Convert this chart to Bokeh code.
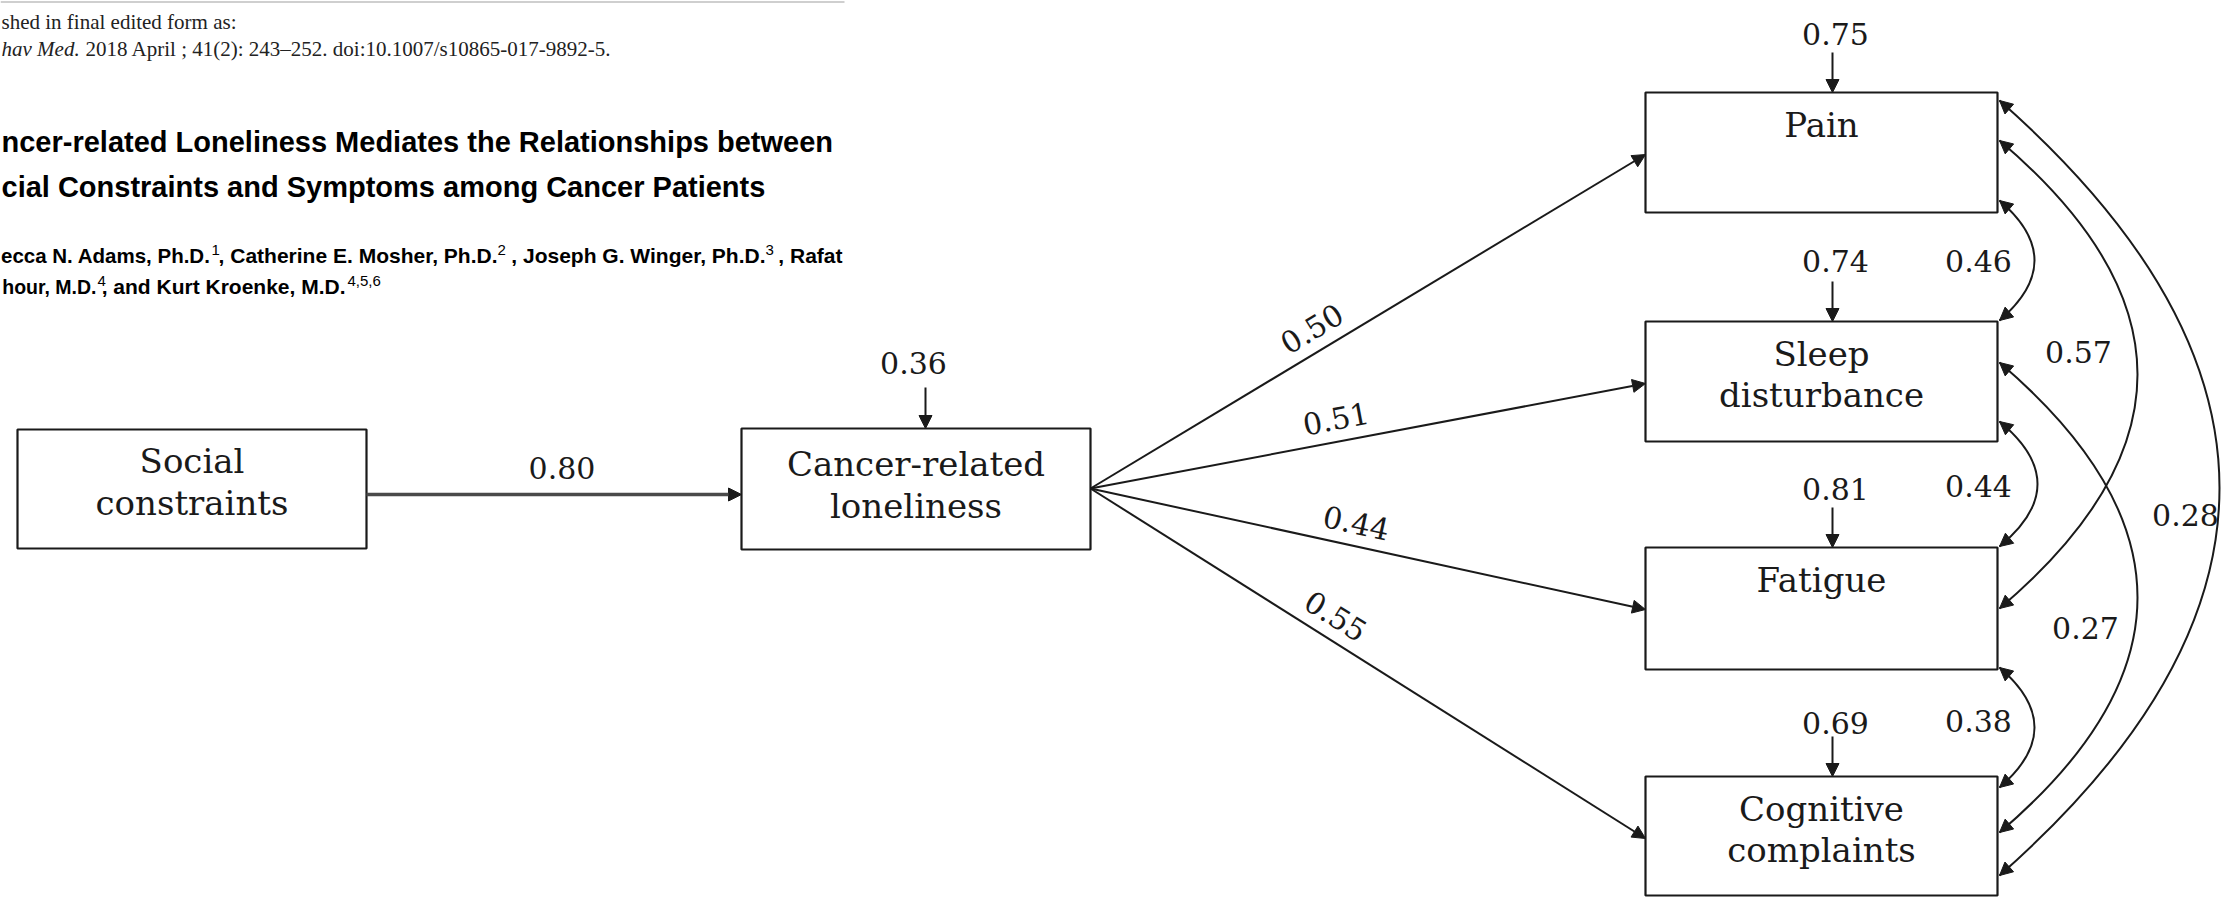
import math
from bokeh.plotting import figure
from bokeh.models import Range1d, Arrow, NormalHead, ColumnDataSource
from bokeh.core.properties import value
from bokeh.embed import file_html
from bokeh.resources import INLINE

# ------------------------------------------------------------------ data
header_line = "shed in final edited form as:"
citation_italic = "hav Med."
citation_rest = "2018 April ; 41(2): 243–252. doi:10.1007/s10865-017-9892-5."
title_lines = ["ncer-related Loneliness Mediates the Relationships between",
               "cial Constraints and Symptoms among Cancer Patients"]
# author line segments, each followed by its superscript affiliation
author_line1 = ["ecca N. Adams, Ph.D.", ", Catherine E. Mosher, Ph.D.",
                ", Joseph G. Winger, Ph.D.", ", Rafat"]
author_line1_sups = ["1", "2", "3"]
author_line2 = ["hour, M.D.", ", and Kurt Kroenke, M.D."]
author_line2_sups = ["4", "4,5,6"]

predictor = ["Social", "constraints"]
mediator = ["Cancer-related", "loneliness"]
outcomes = [["Pain"], ["Sleep", "disturbance"], ["Fatigue"], ["Cognitive", "complaints"]]

path_predictor_mediator = 0.80
mediator_residual = 0.36
paths_mediator_outcomes = [0.50, 0.51, 0.44, 0.55]
outcome_residuals = [0.75, 0.74, 0.81, 0.69]
cov_pairs = [(0, 1), (1, 2), (2, 3), (0, 2), (1, 3), (0, 3)]
cov_values = [0.46, 0.44, 0.38, 0.57, 0.27, 0.28]

# ------------------------------------------------------------------ layout (picture pixels)
W, H = 2221, 898
PRED_BOX = (17, 366, 429, 548)          # left, right, top, bottom
MED_BOX = (741, 1090, 428, 549)
OUT_LEFT, OUT_RIGHT = 1645, 1997
OUT_TOPS = [92, 321, 547, 776]
OUT_BOTTOMS = [212, 441, 669, 895]
OUT_TARGET_OFF = 62
PATH_LABEL_T = [0.42, 0.45, 0.47, 0.42]
PATH_LABEL_OFF = 23
RES_LABEL_Y = [33, 260, 488, 722]
RES_ARROW_X = 1832
RES_LABEL_X = 1835
COV_ANCHOR = [(108, -1), (100, -1), (120, 11), (48, 61), (41, 56), (8, 99)]
COV_BULGE = [2034, 2037, 2034, 2137, 2137, 2219]
COV_LABEL_XY = [(1978, 260), (1978, 485), (1978, 720), (2078, 351), (2085, 627), (2185, 514)]
# author segment anchors: right ends of segments and superscript starts
L1_SEG_RIGHT = [497, 765, 842]
L1_SUP_X = [211, 497, 765]
L2_SEG_RIGHT = [96, 345]
L2_SUP_X = [97, 347]

INK = "#1a1a1a"
SERIF = value("DejaVu Serif")
SANS = value("Liberation Sans")

p = figure(width=W, height=H, x_range=Range1d(0, W), y_range=Range1d(H, 0),
           output_backend="svg", toolbar_location=None, min_border=0,
           x_axis_location=None, y_axis_location=None)
p.grid.visible = False
p.outline_line_color = None
p.background_fill_color = "white"
p.border_fill_color = "white"

# ------------------------------------------------------------------ header (page of the article)
p.segment(x0=[0], y0=[1.5], x1=[844], y1=[1.5], line_color="#cfcfcf", line_width=2)
p.text(x=[1], y=[21], text=[header_line], text_font=value("Liberation Serif"),
       text_font_size=value("21px"), text_color="#222222", text_baseline="middle")
p.text(x=[1], y=[48], text=[citation_italic], text_font=value("Liberation Serif"),
       text_font_size=value("21px"), text_font_style="italic", text_color="#222222",
       text_baseline="middle")
p.text(x=[85], y=[48], text=[citation_rest], text_font=value("Liberation Serif"),
       text_font_size=value("21px"), text_color="#222222", text_baseline="middle")
p.text(x=[1, 1], y=[141, 186], text=title_lines, text_font=SANS,
       text_font_size=value("29px"), text_font_style="bold", text_color="black",
       text_baseline="middle")

# authors, line 1
p.text(x=[0.5], y=[255], text=[author_line1[0]], text_font=SANS, text_font_size=value("20.5px"),
       text_font_style="bold", text_color="black", text_baseline="middle")
p.text(x=L1_SEG_RIGHT, y=[255] * 3, text=author_line1[1:], text_font=SANS,
       text_font_size=value("21px"), text_font_style="bold", text_color="black",
       text_align="right", text_baseline="middle")
p.text(x=L1_SUP_X, y=[249] * 3, text=author_line1_sups, text_font=SANS,
       text_font_size=value("15px"), text_color="black", text_baseline="middle")
# authors, line 2
p.text(x=L2_SEG_RIGHT[:1], y=[286], text=author_line2[:1], text_font=SANS,
       text_font_size=value("19.5px"), text_font_style="bold", text_color="black",
       text_align="right", text_baseline="middle")
p.text(x=L2_SEG_RIGHT[1:], y=[286], text=author_line2[1:], text_font=SANS,
       text_font_size=value("21px"), text_font_style="bold", text_color="black",
       text_align="right", text_baseline="middle")
p.text(x=L2_SUP_X, y=[280] * 2, text=author_line2_sups, text_font=SANS,
       text_font_size=value("15px"), text_color="black", text_baseline="middle")

# ------------------------------------------------------------------ boxes
lefts = [PRED_BOX[0], MED_BOX[0]] + [OUT_LEFT] * 4
rights = [PRED_BOX[1], MED_BOX[1]] + [OUT_RIGHT] * 4
tops = [PRED_BOX[2], MED_BOX[2]] + OUT_TOPS
bottoms = [PRED_BOX[3], MED_BOX[3]] + OUT_BOTTOMS
p.quad(left=lefts, right=rights, top=tops, bottom=bottoms, fill_color="white",
       line_color=INK, line_width=2.2)

lx, ly, lt = [], [], []
for lines, (l, r, t, b), first in [(predictor, PRED_BOX, 31), (mediator, MED_BOX, 35)]:
    for i, s in enumerate(lines):
        lx.append((l + r) / 2); ly.append(t + first + 42 * i); lt.append(s)
for k, lines in enumerate(outcomes):
    for i, s in enumerate(lines):
        lx.append((OUT_LEFT + OUT_RIGHT) / 2); ly.append(OUT_TOPS[k] + 32 + 41 * i); lt.append(s)
p.text(x=lx, y=ly, text=lt, text_font=SERIF, text_font_size=value("34px"),
       text_color=INK, text_align="center", text_baseline="middle")

# ------------------------------------------------------------------ single-headed paths
def head():
    return NormalHead(size=13, fill_color=INK, line_color=INK, line_width=1)

pm_y = PRED_BOX[2] + 65
arr = dict(x0=[PRED_BOX[1]], y0=[pm_y], x1=[MED_BOX[0]], y1=[pm_y])
p.add_layout(Arrow(end=head(), source=ColumnDataSource(arr), x_start="x0", y_start="y0",
                   x_end="x1", y_end="y1", line_color="#4a4a4a", line_width=3.5))
p.text(x=[(PRED_BOX[1] + MED_BOX[0]) / 2 + 8], y=[467], text=[f"{path_predictor_mediator:.2f}"],
       text_font=SERIF, text_font_size=value("30px"), text_color=INK,
       text_align="center", text_baseline="middle")

med_cx = 925
p.add_layout(Arrow(end=head(), x_start=med_cx, y_start=MED_BOX[2] - 41, x_end=med_cx,
                   y_end=MED_BOX[2], line_color=INK, line_width=2))
p.text(x=[913], y=[362], text=[f"{mediator_residual:.2f}"], text_font=SERIF,
       text_font_size=value("30px"), text_color=INK, text_align="center", text_baseline="middle")

ox = MED_BOX[1]
oy = (MED_BOX[2] + MED_BOX[3]) / 2 - 0.5
src = dict(x0=[], y0=[], x1=[], y1=[])
px, py, pt, pa = [], [], [], []
for k, coef in enumerate(paths_mediator_outcomes):
    tx, ty = OUT_LEFT, OUT_TOPS[k] + OUT_TARGET_OFF
    src["x0"].append(ox); src["y0"].append(oy); src["x1"].append(tx); src["y1"].append(ty)
    dx, dy = tx - ox, ty - oy
    L = math.hypot(dx, dy)
    t = PATH_LABEL_T[k]
    nx, ny = dy / L, -dx / L
    px.append(ox + t * dx + PATH_LABEL_OFF * nx)
    py.append(oy + t * dy + PATH_LABEL_OFF * ny)
    pt.append(f"{coef:.2f}")
    pa.append(math.atan2(-dy, dx))
p.add_layout(Arrow(end=head(), source=ColumnDataSource(src), x_start="x0", y_start="y0",
                   x_end="x1", y_end="y1", line_color=INK, line_width=2))
p.text(x=px, y=py, text=pt, angle=pa, text_font=SERIF, text_font_size=value("30px"),
       text_color=INK, text_align="center", text_baseline="middle")

rsrc = dict(x0=[], y0=[], x1=[], y1=[])
for k in range(4):
    rsrc["x0"].append(RES_ARROW_X); rsrc["y0"].append(OUT_TOPS[k] - 40)
    rsrc["x1"].append(RES_ARROW_X); rsrc["y1"].append(OUT_TOPS[k])
p.add_layout(Arrow(end=head(), source=ColumnDataSource(rsrc), x_start="x0", y_start="y0",
                   x_end="x1", y_end="y1", line_color=INK, line_width=2))
p.text(x=[RES_LABEL_X] * 4, y=RES_LABEL_Y, text=[f"{v:.2f}" for v in outcome_residuals],
       text_font=SERIF, text_font_size=value("30px"), text_color=INK,
       text_align="center", text_baseline="middle")

# ------------------------------------------------------------------ covariances (double-headed)
qx0, qy0, qx1, qy1, qcx, qcy = [], [], [], [], [], []
hsrc = dict(x0=[], y0=[], x1=[], y1=[])
ex = OUT_RIGHT + 2
for (a, b), (oa, ob), bulge in zip(cov_pairs, COV_ANCHOR, COV_BULGE):
    y0 = OUT_TOPS[a] + oa
    y1 = OUT_TOPS[b] + ob
    cx = ex + 2 * (bulge - ex)
    cy = (y0 + y1) / 2
    qx0.append(ex); qy0.append(y0); qx1.append(ex); qy1.append(y1); qcx.append(cx); qcy.append(cy)
    for yy in (y0, y1):
        vx, vy = cx - ex, cy - yy
        L = math.hypot(vx, vy)
        hsrc["x0"].append(ex + 6 * vx / L); hsrc["y0"].append(yy + 6 * vy / L)
        hsrc["x1"].append(ex); hsrc["y1"].append(yy)
p.quadratic(x0=qx0, y0=qy0, x1=qx1, y1=qy1, cx=qcx, cy=qcy, line_color=INK, line_width=2)
p.add_layout(Arrow(end=head(), source=ColumnDataSource(hsrc), x_start="x0", y_start="y0",
                   x_end="x1", y_end="y1", line_color=INK, line_width=2))
p.text(x=[c[0] for c in COV_LABEL_XY], y=[c[1] for c in COV_LABEL_XY],
       text=[f"{v:.2f}" for v in cov_values], text_font=SERIF, text_font_size=value("30px"),
       text_color=INK, text_align="center", text_baseline="middle")

open("out.html", "w").write(file_html(p, INLINE))
